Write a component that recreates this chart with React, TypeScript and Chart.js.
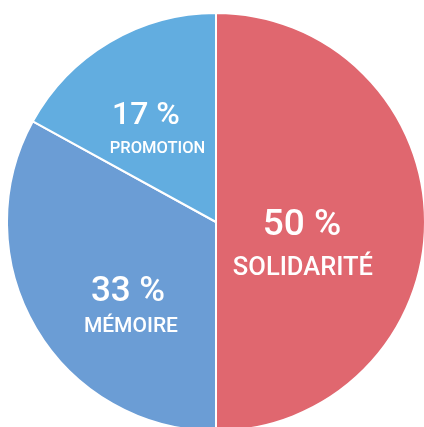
import React, { useEffect, useRef } from "react";
import { Chart, registerables } from "chart.js";

Chart.register(...registerables);

const categories = ["SOLIDARITÉ", "MÉMOIRE", "PROMOTION"];
const values = [50, 33, 17];
const percentLabels = ["50 %", "33 %", "17 %"];
const colors = ["#E0676F", "#6B9DD5", "#62ADE0"];

// label placement relative to slice radius (style, not data)
const labelLayout = [
  { num: [0.411, 0.02], txt: [0.416, 0.222], numSize: 37, txtSize: 25.5 },
  { num: [-0.421, 0.335], txt: [-0.407, 0.5], numSize: 35, txtSize: 21 },
  { num: [-0.335, -0.505], txt: [-0.28, -0.352], numSize: 32, txtSize: 16.5 },
];

const labelPlugin = {
  id: "sliceLabels",
  afterDatasetsDraw(chart: any) {
    const ctx = chart.ctx;
    const meta = chart.getDatasetMeta(0);
    meta.data.forEach((arc: any, i: number) => {
      const { x, y, outerRadius } = arc.getProps(["x", "y", "outerRadius"], true);
      const l = labelLayout[i];
      ctx.save();
      ctx.fillStyle = "#FFFFFF";
      ctx.textAlign = "center";
      ctx.textBaseline = "middle";
      ctx.font = `500 ${l.numSize}px Roboto`;
      ctx.fillText(percentLabels[i], x + l.num[0] * outerRadius, y + l.num[1] * outerRadius);
      ctx.font = `500 ${l.txtSize}px Roboto`;
      ctx.fillText(categories[i], x + l.txt[0] * outerRadius, y + l.txt[1] * outerRadius);
      ctx.restore();
    });
  },
};

export default function App() {
  const ref = useRef<HTMLCanvasElement>(null);
  useEffect(() => {
    if (!ref.current) return;
    const chart = new Chart(ref.current, {
      type: "pie",
      data: {
        labels: categories,
        datasets: [
          {
            data: values,
            backgroundColor: colors,
            borderColor: "#FFFFFF",
            borderWidth: 2,
          },
        ],
      },
      options: {
        responsive: false,
        animation: false,
        devicePixelRatio: 1,
        layout: { padding: 0 },
        plugins: {
          legend: { display: false },
          tooltip: { enabled: false },
        },
      },
      plugins: [labelPlugin],
    });
    return () => chart.destroy();
  }, []);
  return (
    <div
      style={{
        position: "fixed",
        left: 0,
        top: 0,
        width: 424,
        height: 427,
        overflow: "hidden",
        background: "#FFFFFF",
      }}
    >
      <div style={{ position: "absolute", left: 6, top: 12, width: 420, height: 420 }}>
        <canvas ref={ref} width={420} height={420} style={{ display: "block" }} />
      </div>
    </div>
  );
}
